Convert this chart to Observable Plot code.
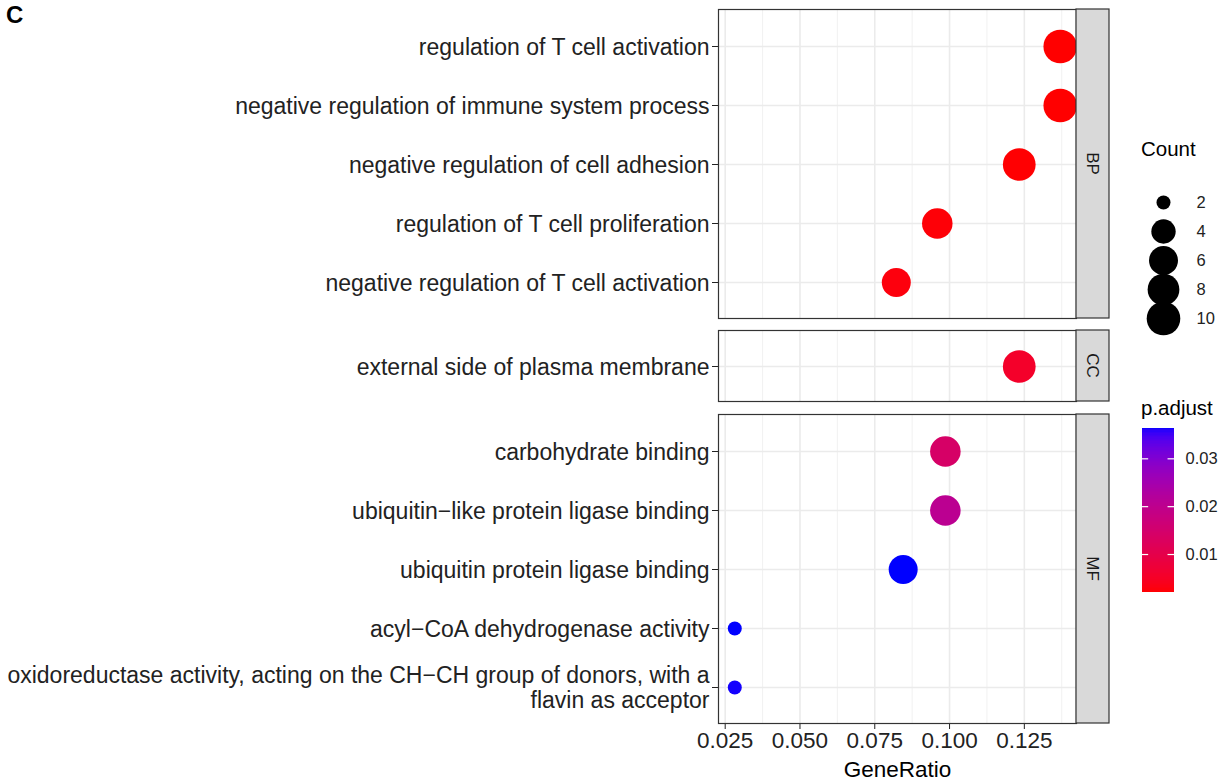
<!DOCTYPE html>
<html>
<head>
<meta charset="utf-8">
<script src="https://cdn.jsdelivr.net/npm/d3@7"></script>
<script src="https://cdn.jsdelivr.net/npm/@observablehq/plot@0.6"></script>
<style>
  body { margin: 0; background: #fff; }
  #chart { position: relative; width: 1228px; height: 782px; overflow: hidden;
           font-family: "Liberation Sans", Arial, Helvetica, sans-serif; background: #fff; }
  #chart svg { position: absolute; }
  .title { position: absolute; white-space: nowrap; color: #000; line-height: 1; }
</style>
</head>
<body>
<div id="chart"></div>
<script>
// GO enrichment terms, top to bottom within each ontology
const terms = [
  "regulation of T cell activation",
  "negative regulation of immune system process",
  "negative regulation of cell adhesion",
  "regulation of T cell proliferation",
  "negative regulation of T cell activation",
  "external side of plasma membrane",
  "carbohydrate binding",
  "ubiquitin\u2212like protein ligase binding",
  "ubiquitin protein ligase binding",
  "acyl\u2212CoA dehydrogenase activity",
  "oxidoreductase activity, acting on the CH\u2212CH group of donors, with a flavin as acceptor"
];
const ontology = ["BP", "BP", "BP", "BP", "BP", "CC", "MF", "MF", "MF", "MF", "MF"];
const geneRatio = [0.1370, 0.1370, 0.1233, 0.0959, 0.0822, 0.1233, 0.0986, 0.0986, 0.0845, 0.0282, 0.0282];
const counts = [10, 10, 9, 7, 6, 9, 7, 7, 6, 2, 2];
const pAdjust = [0.0020, 0.0020, 0.0021, 0.0024, 0.0027, 0.0055, 0.0140, 0.0205, 0.0364, 0.0364, 0.0362];

const facets = ["BP", "CC", "MF"];
const xTicks = [0.025, 0.050, 0.075, 0.100, 0.125];
const countBreaks = [2, 4, 6, 8, 10];
const pTicks = [0.01, 0.02, 0.03];

const rows = terms.map((term, i) => ({
  term, ont: ontology[i], ratio: geneRatio[i], count: counts[i], p: pAdjust[i]
}));

const FONT = '"Liberation Sans", Arial, Helvetica, sans-serif';
const chart = document.getElementById("chart");

// x range padded by 5% on both sides, like ggplot's default expansion
const [rLo, rHi] = d3.extent(geneRatio);
const rPad = (rHi - rLo) * 0.05;
const xDomain = [rLo - rPad, rHi + rPad];
const xStep = xTicks[1] - xTicks[0];
const minorTicks = xTicks.map(t => t + xStep / 2);

// shared scales
const pExtent = d3.extent(pAdjust);
const colorScale = { type: "linear", domain: pExtent, range: ["red", "blue"], interpolate: "lab" };
const rScale = { type: "pow", exponent: -0.5, domain: d3.extent(countBreaks), range: [7, 16.8] };

// wrap long term names onto several lines
function wrapLabel(s, width = 70) {
  const words = String(s).split(" ");
  const lines = [];
  let cur = "";
  for (const w of words) {
    if (cur && (cur + " " + w).length > width) { lines.push(cur); cur = w; }
    else cur = cur ? cur + " " + w : w;
  }
  if (cur) lines.push(cur);
  return lines.join("\n");
}

// panel placement (page pixels)
const PANEL_LEFT = 718, PANEL_RIGHT = 1076, STRIP_RIGHT = 1109;
const panelBox = {
  BP: { top: 9, bottom: 318 },
  CC: { top: 330, bottom: 401 },
  MF: { top: 414, bottom: 723 }
};

facets.forEach((ont, k) => {
  const last = k === facets.length - 1;
  const box = panelBox[ont];
  const data = rows.filter(d => d.ont === ont);
  const mt = 5, mb = last ? 59 : 5;
  const ph = box.bottom - box.top;
  const W = STRIP_RIGHT + 3;

  const svg = Plot.plot({
    width: W,
    height: ph + mt + mb,
    marginLeft: PANEL_LEFT,
    marginRight: W - PANEL_RIGHT,
    marginTop: mt,
    marginBottom: mb,
    style: { fontFamily: FONT, background: "transparent", overflow: "visible" },
    x: { domain: xDomain, axis: null, label: null },
    y: { type: "point", domain: data.map(d => d.term), padding: 0.575, axis: null, label: null },
    r: rScale,
    color: colorScale,
    marks: [
      Plot.gridX(minorTicks, { stroke: "#f1f1f1", strokeOpacity: 1, strokeWidth: 1 }),
      Plot.gridX(xTicks, { stroke: "#ebebeb", strokeOpacity: 1, strokeWidth: 1.6 }),
      Plot.gridY({ stroke: "#ebebeb", strokeOpacity: 1, strokeWidth: 1.6 }),
      Plot.axisY({
        tickSize: 6, tickPadding: 3, fontSize: 23, color: "#222",
        lineHeight: 1.1, tickFormat: d => wrapLabel(d), label: null
      }),
      last ? Plot.axisX(xTicks, {
        tickSize: 6, tickPadding: 3, fontSize: 22.5, color: "#222",
        tickFormat: d3.format(".3f"), label: null
      }) : null,
      last ? Plot.text(["GeneRatio"], {
        frameAnchor: "bottom", dy: 46.5, lineAnchor: "middle",
        fontSize: 22.5, fill: "#000"
      }) : null,
      Plot.dot(data, { x: "ratio", y: "term", r: "count", fill: "p" }),
      Plot.frame({ stroke: "#333", strokeWidth: 1.2 })
    ]
  });

  // facet strip on the right of each panel
  const g = d3.select(svg);
  g.append("rect")
    .attr("x", PANEL_RIGHT).attr("y", mt)
    .attr("width", STRIP_RIGHT - PANEL_RIGHT).attr("height", ph)
    .attr("fill", "#d9d9d9").attr("stroke", "#333").attr("stroke-width", 1.2);
  g.append("text")
    .attr("transform", `translate(${(PANEL_RIGHT + STRIP_RIGHT) / 2},${mt + ph / 2}) rotate(90)`)
    .attr("text-anchor", "middle").attr("dominant-baseline", "central")
    .attr("font-family", FONT).attr("font-size", 17).attr("fill", "#1a1a1a")
    .text(ont);

  svg.style.left = "0px";
  svg.style.top = (box.top - mt) + "px";
  chart.appendChild(svg);
});

// size legend
const countLegend = Plot.plot({
  width: 100, height: 200,
  marginLeft: 35, marginRight: 0, marginTop: 0, marginBottom: 0,
  style: { fontFamily: FONT, background: "transparent", overflow: "visible" },
  y: { type: "point", domain: countBreaks, range: [27, 172], axis: null },
  r: rScale,
  marks: [
    Plot.dot(countBreaks, { y: d => d, r: d => d, fill: "black", frameAnchor: "left" }),
    Plot.text(countBreaks, {
      y: d => d, text: d => String(d), frameAnchor: "left", dx: 33,
      textAnchor: "start", fontSize: 16.5, fill: "#222"
    })
  ]
});
countLegend.style.left = "1128px";
countLegend.style.top = "160px";
chart.appendChild(countLegend);

// colour bar legend
const nSlices = 120;
const sliceStep = (pExtent[1] - pExtent[0]) / nSlices;
const slices = d3.range(nSlices).map(i => pExtent[0] + i * sliceStep);
const colorLegend = Plot.plot({
  width: 100, height: 180,
  marginLeft: 0, marginRight: 0, marginTop: 0, marginBottom: 0,
  style: { fontFamily: FONT, background: "transparent", overflow: "visible" },
  x: { domain: [0, 1], range: [13.7, 46], axis: null },
  y: { domain: pExtent, range: [172.3, 7.7], axis: null },
  color: colorScale,
  marks: [
    Plot.rect(slices, {
      x1: 0, x2: 1, y1: d => d, y2: d => Math.min(d + sliceStep * 1.3, pExtent[1]),
      fill: d => d + sliceStep / 2, shapeRendering: "crispEdges"
    }),
    Plot.ruleY(pTicks, { x1: 0, x2: 0.2, stroke: "white", strokeWidth: 1.2 }),
    Plot.ruleY(pTicks, { x1: 0.8, x2: 1, stroke: "white", strokeWidth: 1.2 }),
    Plot.text(pTicks, {
      x: 1, y: d => d, dx: 11, text: d3.format(".2f"),
      textAnchor: "start", fontSize: 16.5, fill: "#222"
    })
  ]
});
colorLegend.style.left = "1128px";
colorLegend.style.top = "420px";
chart.appendChild(colorLegend);

// legend titles and panel tag
function addTitle(text, left, top, size, weight) {
  const el = document.createElement("div");
  el.className = "title";
  el.textContent = text;
  el.style.left = left + "px";
  el.style.top = top + "px";
  el.style.fontSize = size + "px";
  if (weight) el.style.fontWeight = weight;
  chart.appendChild(el);
}
addTitle("Count", 1141, 139, 20.5);
addTitle("p.adjust", 1141, 397.5, 20.5);
addTitle("C", 6, 3, 24, "bold");
</script>
</body>
</html>
